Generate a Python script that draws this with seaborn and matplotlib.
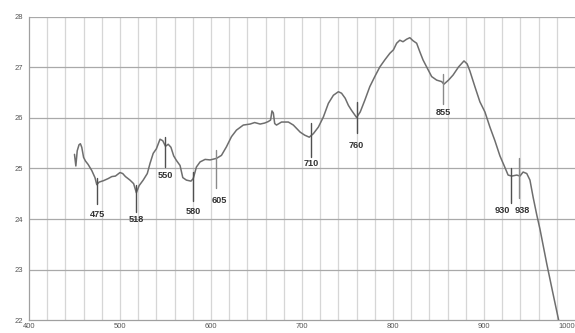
import numpy as np
import pandas as pd
import matplotlib
matplotlib.use("Agg")
import matplotlib.pyplot as plt
import seaborn as sns

# Spectrum: wavelength (nm) vs. level
wavelength = [450, 451.5, 453, 455, 456.5, 458, 460, 462, 465, 469, 472.5, 474.5,
              477, 482, 487, 491, 495, 500, 503, 506, 511, 515, 518, 521, 525.5,
              530, 533, 536.5, 540, 544, 547, 550, 553, 556, 559, 562, 566, 569,
              573, 578, 580.5, 584, 588, 593.5, 599, 606, 611.5, 617, 622.5, 628,
              635.5, 643, 648, 654, 659, 663, 665.5, 667, 668.5, 670, 672, 677.5,
              685, 690.5, 698, 703, 708, 712.5, 718, 723.5, 729, 734.5, 740,
              743.5, 747.5, 751, 754.5, 760, 764, 769, 774.5, 780, 785.5, 791,
              796.5, 800.5, 804, 807.5, 811, 815, 818.5, 822, 826, 829.5, 833,
              837, 842.5, 848, 853.5, 856, 861, 866, 872, 878, 881.5, 884.5, 890,
              895.5, 901, 906.5, 912, 917.5, 923, 926.5, 930.5, 936, 939.5, 943,
              947, 950.5, 954, 958, 961.5, 969, 975.5, 982]
level = [25.28, 25.05, 25.35, 25.47, 25.49, 25.42, 25.22, 25.15, 25.08, 24.96,
         24.82, 24.68, 24.73, 24.76, 24.80, 24.84, 24.85, 24.92, 24.90, 24.84,
         24.77, 24.70, 24.52, 24.66, 24.77, 24.90, 25.10, 25.30, 25.39, 25.58,
         25.55, 25.44, 25.48, 25.42, 25.25, 25.16, 25.06, 24.82, 24.77, 24.75,
         24.80, 25.03, 25.13, 25.18, 25.17, 25.20, 25.26, 25.43, 25.63, 25.76,
         25.86, 25.88, 25.91, 25.88, 25.90, 25.93, 25.96, 26.14, 26.10, 25.89,
         25.86, 25.92, 25.92, 25.86, 25.72, 25.66, 25.62, 25.69, 25.82, 26.02,
         26.29, 26.45, 26.52, 26.49, 26.39, 26.25, 26.15, 26.01, 26.12, 26.35,
         26.62, 26.82, 27.01, 27.15, 27.28, 27.35, 27.48, 27.54, 27.51, 27.56,
         27.59, 27.53, 27.48, 27.31, 27.15, 27.01, 26.82, 26.75, 26.72, 26.67,
         26.75, 26.85, 27.01, 27.13, 27.07, 26.93, 26.62, 26.32, 26.12, 25.82,
         25.55, 25.25, 25.02, 24.87, 24.85, 24.87, 24.85, 24.93, 24.90, 24.77,
         24.43, 24.08, 23.80, 23.11, 22.55, 22.00]

# Marked absorption features (nm)
marks = [475, 518, 550, 580, 605, 710, 760, 855, 930, 938]
mark_labels = ["475", "518", "550", "580", "605", "710", "760", "855", "930", "938"]

x_ticks = [400, 500, 600, 700, 800, 900, 1000]
y_ticks = [22, 23, 24, 25, 26, 27, 28]

df = pd.DataFrame({"wavelength": wavelength, "level": level})

sns.set_theme(style="white")
plt.rcParams["font.family"] = ["Liberation Sans", "DejaVu Sans"]

fig = plt.figure(figsize=(5.75, 3.33), dpi=100)
ax = fig.add_axes([0.0504, 0.039, 0.9496, 0.910])

ax.set_xlim(400, 1000)
ax.set_ylim(22, 28)

# grid: light verticals every 20 nm, darker horizontals every unit
for gx in np.arange(420, 1000, 20):
    ax.axvline(gx, color="#d6d6d6", lw=0.9, zorder=0)
for gy in y_ticks[1:]:
    ax.axhline(gy, color="#a9a9a9", lw=0.9, zorder=0)

sns.lineplot(data=df, x="wavelength", y="level", ax=ax, color="#6e6e6e",
             lw=1.1, zorder=3, legend=False)

# marker segments (top/bottom offsets from curve) and label heights
seg_span = [(0.13, 0.40), (0.15, 0.38), (0.18, 0.42), (0.14, 0.43), (0.18, 0.59),
            (0.25, 0.43), (0.30, 0.31), (0.18, 0.42), (0.15, 0.54), (0.34, 0.45)]
seg_color = ["#505050", "#505050", "#505050", "#505050", "#8a8a8a",
             "#505050", "#505050", "#8a8a8a", "#505050", "#8a8a8a"]
label_y = [24.09, 23.99, 24.87, 24.15, 24.37, 25.10, 25.46, 26.10, 24.17, 24.17]
label_dx = [0, 0, 0, 0, 4, 0, 0, 0, -10, 4]

for wl, lab, (up, dn), c, ly, dx in zip(marks, mark_labels, seg_span, seg_color,
                                        label_y, label_dx):
    y0 = np.interp(wl, wavelength, level)
    ax.plot([wl, wl], [y0 - dn, y0 + up], color=c, lw=1.0, zorder=4)
    ax.text(wl + dx, ly, lab, ha="center", va="center", fontsize=6.6,
            fontweight="bold", color="#333333", zorder=5)

ax.set_xticks(x_ticks)
ax.set_yticks(y_ticks)
ax.tick_params(axis="both", labelsize=5.5, labelcolor="#555555", length=2.5,
               width=0.8, color="#a0a0a0", direction="out", pad=2)
ax.tick_params(axis="x", length=2, pad=0.5)
ax.set_xlabel("")
ax.set_ylabel("")
for side in ("top", "right"):
    ax.spines[side].set_visible(False)
for side in ("left", "bottom"):
    ax.spines[side].set_color("#a0a0a0")
    ax.spines[side].set_linewidth(0.9)

# keep the last x label inside the canvas
xl = ax.get_xticklabels()
xl[-1].set_horizontalalignment("right")

fig.savefig("out.png", dpi=100)
